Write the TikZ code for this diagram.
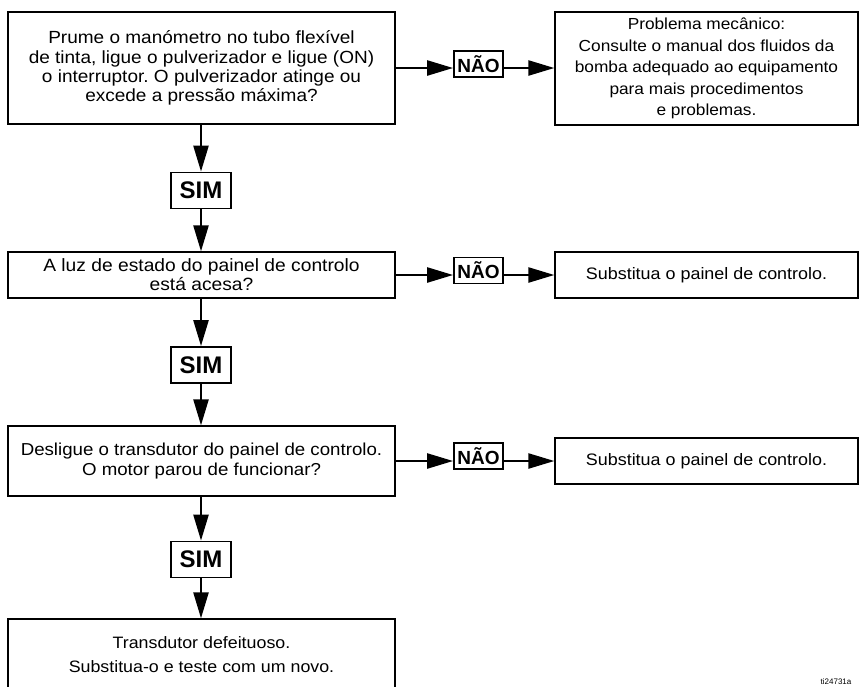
\documentclass[tikz,border=0pt]{standalone}
\usepackage{fontspec}
\setmainfont{Liberation Sans}
\newfontfamily\bodyfont{Liberation Sans}[FakeStretch=1.08]
\usetikzlibrary{arrows.meta}
\frenchspacing
\begin{document}
\begin{tikzpicture}[x=1pt,y=-1pt,
  box/.style={draw=black,line width=1.3pt,inner sep=0pt,align=center,anchor=center},
  nao/.style={draw=black,line width=1.8pt,inner sep=0pt,minimum width=49pt,minimum height=26pt,
    font=\fontsize{19}{19}\selectfont\bfseries},
  sim/.style={draw=black,line width=1.8pt,inner sep=0pt,minimum width=60pt,minimum height=36pt,
    font=\fontsize{24}{24}\selectfont\bfseries},
  arr/.style={line width=2.4pt,-{Triangle[length=26pt,width=15pt]}}
]
\useasboundingbox (0,0) rectangle (859,686);
\clip (0,0) rectangle (859,686);
% boxes
\node[box,minimum width=387pt,minimum height=112pt,font=\bodyfont\fontsize{17.6}{19.2}\selectfont\frenchspacing] (b1) at (201.5,68)
  {Prume o manómetro no tubo flexível\\de tinta, ligue o pulverizador e ligue (ON)\\o interruptor. O pulverizador atinge ou\\excede a pressão máxima?};
\node[box,minimum width=303pt,minimum height=113pt,font=\bodyfont\fontsize{16}{21.5}\selectfont] (r1) at (706.5,68.5)
  {Problema mecânico:\\Consulte o manual dos fluidos da\\bomba adequado ao equipamento\\para mais procedimentos\\e problemas.};
\node[nao] (n1) at (478.5,64) {NÃO};
\node[sim] (s1) at (201,190.5) {SIM};
\node[box,minimum width=387pt,minimum height=46pt,font=\bodyfont\fontsize{17.8}{19}\selectfont] (b2) at (201.5,275)
  {A luz de estado do painel de controlo\\está acesa?};
\node[nao] (n2) at (478.5,270.5) {NÃO};
\node[box,minimum width=303pt,minimum height=46pt,font=\bodyfont\fontsize{16.6}{19}\selectfont] (r2) at (706.5,275) {Substitua o painel de controlo.};
\node[sim] (s2) at (201,365) {SIM};
\node[box,minimum width=387pt,minimum height=70pt,font=\bodyfont\fontsize{17.3}{20}\selectfont] (b3) at (201.5,461)
  {Desligue o transdutor do painel de controlo.\\O motor parou de funcionar?};
\node[nao] (n3) at (478.5,456) {NÃO};
\node[box,minimum width=303pt,minimum height=46pt,font=\bodyfont\fontsize{16.6}{19}\selectfont] (r3) at (706.5,461) {Substitua o painel de controlo.};
\node[sim] (s3) at (201,559.5) {SIM};
\node[box,minimum width=387pt,minimum height=82pt] (b4) at (201.5,660) {};
\node[font=\bodyfont\fontsize{16.5}{24}\selectfont,align=center,anchor=base] (b4t) at (201.5,672)
  {Transdutor defeituoso.\\Substitua-o e teste com um novo.};
\node[font=\fontsize{8}{8}\selectfont,anchor=base] (tag) at (836,684) {ti24731a};
% connectors
\draw[arr] (b1.east) -- (n1.west |- b1.east);
\draw[arr] (n1.east |- b1.east) -- (r1.west |- b1.east);
\draw[arr] (b2.east) -- (n2.west |- b2.east);
\draw[arr] (n2.east |- b2.east) -- (r2.west |- b2.east);
\draw[arr] (b3.east) -- (n3.west |- b3.east);
\draw[arr] (n3.east |- b3.east) -- (r3.west |- b3.east);
\draw[arr] (s1.north |- b1.south) -- (s1.north);
\draw[arr] (s1.south) -- (s1.south |- b2.north);
\draw[arr] (s2.north |- b2.south) -- (s2.north);
\draw[arr] (s2.south) -- (s2.south |- b3.north);
\draw[arr] (s3.north |- b3.south) -- (s3.north);
\draw[arr] (s3.south) -- (s3.south |- b4.north);
\end{tikzpicture}
\end{document}
